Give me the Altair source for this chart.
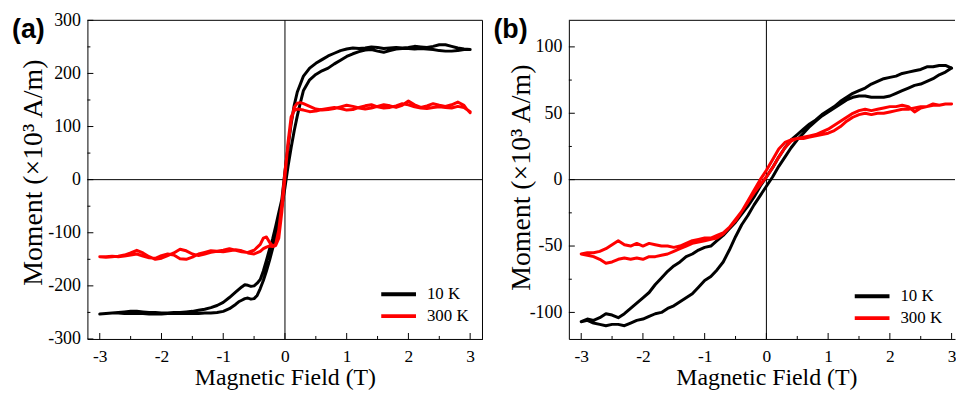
import altair as alt
import pandas as pd

# ---------------- data ----------------
SERIES = ["10 K", "300 K"]
COLORS = ["#000000", "#ff0000"]

X_MAJOR = [-3, -2, -1, 0, 1, 2, 3]
X_MINOR = [-2.5, -1.5, -0.5, 0.5, 1.5, 2.5]
A_Y_MAJOR = [-300, -200, -100, 0, 100, 200, 300]
A_Y_MINOR = [-250, -150, -50, 50, 150, 250]
B_Y_MAJOR = [-100, -50, 0, 50, 100]
B_Y_MINOR = [-75, -25, 25, 75]

# panel (a), 10 K
A10_DOWN_H = [3.0, 2.9, 2.8, 2.7, 2.6, 2.5, 2.4, 2.3, 2.2, 2.1, 2.0, 1.9, 1.8, 1.7, 1.6, 1.5, 1.4, 1.3, 1.2, 1.1,
              1.0, 0.9, 0.8, 0.7, 0.6, 0.5, 0.4, 0.3, 0.2, 0.15, 0.1, 0.05, 0.0, -0.05, -0.1, -0.15, -0.2, -0.25,
              -0.3, -0.35, -0.4, -0.45, -0.5, -0.55, -0.6, -0.65, -0.7, -0.8, -0.9, -1.0, -1.1, -1.2, -1.3, -1.4,
              -1.5, -1.6, -1.7, -1.8, -1.9, -2.0, -2.1, -2.2, -2.3, -2.4, -2.5, -2.6, -2.7, -2.8, -2.9, -3.0]
A10_DOWN_M = [245, 246, 248, 251, 254, 254, 251, 249, 250, 251, 249, 248, 249, 248, 247, 249, 250, 248, 247, 248,
              246, 243, 238, 233, 226, 219, 210, 195, 165, 140, 105, 62, 15, -37, -62, -88, -112, -131,
              -152, -172, -188, -195, -200, -201, -199, -198, -202, -212, -222, -231, -237, -241, -244, -246,
              -248, -249, -250, -250, -251, -251, -250, -250, -249, -248, -248, -249, -250, -251, -252, -253]
A10_UP_H = [-3.0, -2.9, -2.8, -2.7, -2.6, -2.5, -2.4, -2.3, -2.2, -2.1, -2.0, -1.9, -1.8, -1.7, -1.6, -1.5, -1.4,
            -1.3, -1.2, -1.1, -1.0, -0.9, -0.8, -0.75, -0.7, -0.65, -0.6, -0.55, -0.5, -0.45, -0.4, -0.35, -0.3,
            -0.25, -0.2, -0.15, -0.1, -0.05, 0.0, 0.05, 0.1, 0.15, 0.2, 0.25, 0.3, 0.4, 0.5, 0.6, 0.7, 0.8, 0.9,
            1.0, 1.1, 1.2, 1.3, 1.4, 1.5, 1.6, 1.7, 1.8, 1.9, 2.0, 2.1, 2.2, 2.3, 2.4, 2.5, 2.6, 2.7, 2.8, 2.9, 3.0]
A10_UP_M = [-253, -252, -251, -251, -252, -252, -252, -252, -253, -253, -253, -252, -252, -252, -252, -252, -252,
            -251, -251, -250, -248, -243, -235, -230, -227, -224, -223, -225, -224, -218, -205, -190, -172,
            -152, -130, -105, -78, -50, -15, 25, 60, 92, 120, 145, 168, 188, 198, 205, 210, 218, 225,
            232, 237, 241, 244, 245, 242, 240, 243, 246, 247, 247, 246, 247, 246, 245, 243, 242, 242, 243, 245, 245]

# panel (a), 300 K
A300_DOWN_H = [3.0, 2.95, 2.9, 2.8, 2.7, 2.6, 2.5, 2.4, 2.3, 2.2, 2.1, 2.0, 1.9, 1.8, 1.7, 1.6, 1.5, 1.4, 1.3, 1.2,
               1.1, 1.0, 0.9, 0.8, 0.7, 0.6, 0.5, 0.4, 0.3, 0.25, 0.2, 0.15, 0.1, 0.05, 0.0, -0.05, -0.1, -0.15,
               -0.2, -0.25, -0.3, -0.35, -0.4, -0.5, -0.6, -0.7, -0.8, -0.9, -1.0, -1.1, -1.2, -1.3, -1.4, -1.5,
               -1.6, -1.7, -1.8, -1.9, -2.0, -2.1, -2.2, -2.3, -2.4, -2.5, -2.6, -2.7, -2.8, -2.9, -3.0]
A300_DOWN_M = [126, 132, 140, 146, 141, 138, 140, 143, 139, 136, 141, 148, 140, 136, 139, 141, 138, 135, 133, 135,
               138, 140, 137, 134, 132, 131, 133, 138, 143, 145, 144, 136, 110, 65, 15, -45, -95, -122,
               -125, -118, -108, -110, -122, -133, -137, -136, -133, -130, -133, -135, -134, -137, -140, -146,
               -150, -149, -142, -140, -143, -148, -147, -144, -140, -142, -144, -145, -144, -145, -145]
A300_UP_H = [-3.0, -2.9, -2.8, -2.7, -2.6, -2.5, -2.4, -2.3, -2.2, -2.1, -2.0, -1.9, -1.8, -1.7, -1.6, -1.5, -1.4,
             -1.3, -1.2, -1.1, -1.0, -0.9, -0.8, -0.7, -0.6, -0.5, -0.4, -0.35, -0.3, -0.25, -0.2, -0.15, -0.1,
             -0.05, 0.0, 0.05, 0.1, 0.15, 0.2, 0.3, 0.4, 0.5, 0.6, 0.7, 0.8, 0.9, 1.0, 1.1, 1.2, 1.3, 1.4, 1.5,
             1.6, 1.7, 1.8, 1.9, 2.0, 2.1, 2.2, 2.3, 2.4, 2.5, 2.6, 2.7, 2.8, 2.9, 3.0]
A300_UP_M = [-145, -146, -145, -144, -142, -138, -133, -138, -145, -150, -148, -143, -138, -131, -134, -140, -143,
             -140, -137, -135, -136, -134, -132, -134, -138, -140, -135, -130, -127, -125, -126, -124, -110,
             -60, 5, 70, 118, 130, 133, 131, 128, 129, 132, 134, 136, 134, 131, 132, 136, 139, 141, 137,
             135, 136, 139, 143, 141, 137, 135, 134, 136, 137, 136, 135, 138, 136, 128]

# panel (b): both branches sampled every 0.1 T
B_DOWN_H = [round(3.0 - 0.1 * i, 1) for i in range(61)]
B_UP_H = [round(-3.0 + 0.1 * i, 1) for i in range(61)]
B10_DOWN_M = [84, 86, 86, 85, 85, 83, 82, 81, 80, 78, 77, 76, 74, 72, 69, 67, 65, 62, 59, 55,
              52, 49, 45, 42, 38, 34, 30, 24, 17, 9, 2, -5, -13, -20, -26, -32, -37, -42, -46, -50,
              -51, -53, -56, -58, -62, -65, -69, -74, -79, -85, -89, -93, -97, -101, -104, -102, -101, -104,
              -106, -105, -107]
B10_UP_M = [-107, -106, -108, -109, -110, -109, -109, -110, -108, -106, -105, -103, -101, -100, -97, -95, -92, -89,
            -86, -81, -76, -73, -68, -62, -53, -43, -34, -27, -19, -12, -5, 2, 10, 17, 24, 30, 35, 40, 44, 48,
            51, 54, 57, 60, 62, 63, 63, 62, 62, 62, 63, 65, 67, 69, 71, 72, 74, 76, 79, 81, 84]
B300_DOWN_M = [57, 57, 56, 57, 55, 54, 51, 55, 56, 55, 55, 54, 53, 52, 53, 52, 50, 47, 44, 41,
               38, 36, 34, 33, 32, 31, 30, 28, 23, 15, 7, 0, -8, -16, -24, -31, -36, -40, -42, -44,
               -44, -45, -46, -48, -50, -51, -50, -50, -49, -48, -50, -48, -50, -49, -46, -49, -52, -54,
               -55, -55, -56]
B300_UP_M = [-56, -57, -58, -60, -63, -62, -60, -59, -60, -59, -60, -58, -58, -57, -56, -54, -52, -50, -48, -47,
             -46, -45, -44, -41, -36, -30, -24, -17, -10, -4, 2, 9, 17, 24, 29, 31, 31, 32, 33, 34,
             35, 37, 40, 44, 47, 49, 50, 49, 50, 50, 51, 52, 53, 53, 54, 55, 55, 56, 56, 57, 57]

# ---------------- layout constants ----------------
W_A = 398
W_B = 389
H = 321
PX_PER_T = W_A / 6.4
SERIF = "Liberation Serif"


def loop_table(curves):
    rows = []
    for label, hd, md, hu, mu in curves:
        i = 0
        for h, m in list(zip(hd, md)) + list(zip(hu, mu)):
            rows.append({"T": label, "H": h, "M": m, "i": i})
            i += 1
    return pd.DataFrame(rows)


def panel(df, ydom, ymaj, ymin, width, xmax, tag, tag_x, ytitle_x, ytitle_y, leg_x, leg_y):
    xs = alt.Scale(domain=[-3.2, xmax], nice=False, zero=False)
    ys = alt.Scale(domain=ydom, nice=False, zero=False)
    # identical axis specs on every layer so that Vega-Lite merges them into one axis
    xa = alt.Axis(
        values=X_MAJOR, labelExpr="'' + datum.value", title="Magnetic Field (T)",
        titleX=199, titleY=38.5, titleBaseline="middle", titleAlign="center",
        titleFontSize=24, labelPadding=9, labelFontSize=17.5, ticks=False, tickSize=0, grid=False,
        domain=True, domainColor="black")
    ya = alt.Axis(
        values=ymaj, labelExpr="'' + datum.value", title="Moment (×10³ A/m)",
        titleAngle=270, titleX=ytitle_x, titleY=ytitle_y, titleBaseline="middle",
        titleAlign="center", titleFontSize=28, labelPadding=7, ticks=False, tickSize=0, grid=False,
        domain=True, domainColor="black")

    lines = alt.Chart(df).mark_line(strokeWidth=3, strokeJoin="round", strokeCap="round").encode(
        x=alt.X("H:Q", scale=xs, axis=xa),
        y=alt.Y("M:Q", scale=ys, axis=ya),
        color=alt.Color("T:N", scale=alt.Scale(domain=SERIES, range=COLORS), legend=alt.Legend(
            orient="none", legendX=leg_x, legendY=leg_y, title=None, symbolType="stroke",
            symbolStrokeWidth=4, symbolSize=1225, clipHeight=22, rowPadding=0, padding=0,
            labelFont=SERIF, labelFontSize=17, labelOffset=9, labelColor="black", labelLimit=60)),
        order="i:Q",
    )

    zero_v = alt.Chart(pd.DataFrame({"z": [0]})).mark_rule(color="black", strokeWidth=1).encode(
        x=alt.X("z:Q", scale=xs, axis=xa))
    zero_h = alt.Chart(pd.DataFrame({"z": [0]})).mark_rule(color="black", strokeWidth=1).encode(
        y=alt.Y("z:Q", scale=ys, axis=ya))

    def xticks(vals, ln):
        return alt.Chart(pd.DataFrame({"v": vals})).mark_rule(color="black", strokeWidth=1).encode(
            x=alt.X("v:Q", scale=xs, axis=xa), y=alt.value(H), y2=alt.value(H - ln))

    def yticks(vals, ln):
        return alt.Chart(pd.DataFrame({"v": vals})).mark_rule(color="black", strokeWidth=1).encode(
            y=alt.Y("v:Q", scale=ys, axis=ya), x=alt.value(0), x2=alt.value(ln))

    frame_top = alt.Chart(pd.DataFrame({"k": [0]})).mark_rule(color="black", strokeWidth=1).encode(
        x=alt.value(0), x2=alt.value(width), y=alt.value(0))
    deco = [zero_v, zero_h, xticks(X_MAJOR, 6), xticks(X_MINOR, 3), yticks(ymaj, 6), yticks(ymin, 3),
            frame_top]
    if tag == "(a)":
        frame_right = alt.Chart(pd.DataFrame({"k": [0]})).mark_rule(color="black", strokeWidth=1).encode(
            x=alt.value(width), y=alt.value(0), y2=alt.value(H))
        deco.append(frame_right)

    label = alt.Chart(pd.DataFrame({"t": [tag]})).mark_text(
        font="Liberation Sans", fontWeight="bold", fontSize=27, align="left", baseline="alphabetic",
        color="black"
    ).encode(text="t:N", x=alt.value(tag_x), y=alt.value(18))

    return alt.layer(*deco, lines, label).properties(width=width, height=H)


df_a = loop_table([
    ("10 K", A10_DOWN_H, A10_DOWN_M, A10_UP_H, A10_UP_M),
    ("300 K", A300_DOWN_H, A300_DOWN_M, A300_UP_H, A300_UP_M),
])
df_b = loop_table([
    ("10 K", B_DOWN_H, B10_DOWN_M, B_UP_H, B10_UP_M),
    ("300 K", B_DOWN_H, B300_DOWN_M, B_UP_H, B300_UP_M),
])

pa = panel(df_a, [-300, 300], A_Y_MAJOR, A_Y_MINOR, W_A, 3.2, "(a)", -76, -54, 153, 294, 265)
pb = panel(df_b, [-120, 120], B_Y_MAJOR, B_Y_MINOR, W_B, -3.2 + W_B / PX_PER_T, "(b)", -76, -48, 158, 286, 267)

chart = alt.hconcat(pa, pb, spacing=87, bounds="flush").resolve_scale(
    color="independent", x="independent", y="independent"
).resolve_legend(color="independent").properties(
    padding={"left": 4, "top": 2, "right": 0, "bottom": 0}, background="white"
).configure_view(stroke=None).configure_axis(
    labelColor="black", titleColor="black",
    labelFont=SERIF, titleFont=SERIF, labelFontSize=18, titleFontWeight="normal"
).configure_legend(labelFont=SERIF, labelFontSize=17, labelColor="black")

chart.save("out.html", embed_options={"renderer": "svg", "actions": False})
